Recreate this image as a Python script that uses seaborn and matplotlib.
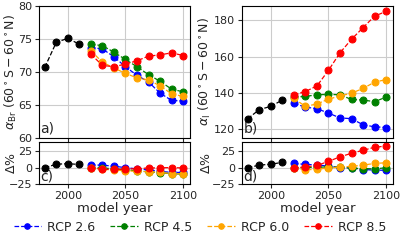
import numpy as np
import pandas as pd
import matplotlib
matplotlib.use("Agg")
import matplotlib.pyplot as plt
import seaborn as sns

hist_years = [1980, 1990, 2000, 2010]
rcp_years = [2020, 2030, 2040, 2050, 2060, 2070, 2080, 2090, 2100]
scenarios = ["RCP 2.6", "RCP 4.5", "RCP 6.0", "RCP 8.5"]
colors = ["blue", "green", "orange", "red"]

# alpha_Br (60S-60N)
br_hist = [70.7, 74.5, 75.1, 74.2]
br_26 = [73.7, 73.5, 72.3, 70.8, 69.5, 68.5, 66.8, 65.7, 65.6]
br_45 = [74.2, 74.0, 73.0, 71.9, 70.8, 69.6, 68.6, 67.4, 67.0]
br_60 = [73.2, 71.5, 70.6, 69.8, 69.1, 68.8, 67.9, 66.7, 66.3]
br_85 = [72.7, 71.0, 70.8, 71.2, 71.7, 72.4, 72.6, 72.9, 72.5]

# alpha_I (60S-60N)
i_hist = [125.7, 130.7, 132.5, 136.0]
i_26 = [134.1, 132.1, 131.2, 128.8, 126.1, 125.7, 122.3, 121.2, 120.8]
i_45 = [137.6, 138.0, 138.9, 139.1, 138.9, 136.3, 136.0, 135.1, 137.6]
i_60 = [136.9, 132.5, 133.8, 136.5, 138.2, 139.8, 142.4, 145.9, 147.3]
i_85 = [138.9, 140.7, 143.8, 152.4, 162.1, 169.6, 176.0, 182.4, 185.0]

# Delta % panels
dbr_hist = [0, 5.4, 6.2, 5.0]
dbr_26 = [4.2, 4.0, 2.3, 0.2, -1.7, -3.1, -5.5, -7.1, -7.2]
dbr_45 = [0, -0.3, -1.6, -3.1, -4.6, -6.2, -7.5, -9.2, -9.7]
dbr_60 = [0, -2.3, -3.6, -4.6, -5.6, -6.0, -7.2, -8.9, -9.4]
dbr_85 = [0, -2.3, -2.6, -2.1, -1.4, -0.4, -0.1, 0.3, -0.3]

di_hist = [0, 4.0, 5.4, 8.2]
di_26 = [6.7, 5.1, 4.4, 2.5, 0.3, 0.0, -2.7, -3.6, -3.9]
di_45 = [0, 0.3, 0.9, 1.1, 0.9, -0.9, -1.2, -1.8, 0.0]
di_60 = [0, -3.2, -2.3, -0.3, 1.0, 2.1, 4.0, 6.6, 7.6]
di_85 = [0, 1.3, 3.5, 9.7, 16.7, 22.1, 26.7, 31.3, 33.2]

sns.set_style("ticks", {"axes.grid": True, "grid.color": "#cccccc", "axes.edgecolor": "black"})
plt.rcParams["font.family"] = ["DejaVu Sans"]
plt.rcParams["mathtext.fontset"] = "dejavusans"
plt.rcParams["font.size"] = 9

fig = plt.figure(figsize=(4, 2.4), dpi=100)
ax_a = fig.add_axes([0.0975, 0.425, 0.3775, 0.55])
ax_c = fig.add_axes([0.0975, 0.233, 0.3775, 0.177])
ax_b = fig.add_axes([0.605, 0.425, 0.3775, 0.55])
ax_d = fig.add_axes([0.605, 0.233, 0.3775, 0.177])


def draw(ax, hist, series):
    sns.lineplot(x=hist_years, y=hist, ax=ax, color="black", ls="--", lw=0.9,
                 marker="o", ms=5, mec="black")
    for vals, name, c in zip(series, scenarios, colors):
        sns.lineplot(x=rcp_years, y=vals, ax=ax, color=c, ls="--", lw=0.9,
                     marker="o", ms=5, mec=c, label=name)
    ax.set_xlim(1975, 2106)
    ax.set_xticks([2000, 2050, 2100])
    ax.tick_params(labelsize=8, length=3, pad=2)
    if ax.get_legend() is not None:
        ax.get_legend().remove()


draw(ax_a, br_hist, [br_26, br_45, br_60, br_85])
draw(ax_b, i_hist, [i_26, i_45, i_60, i_85])
draw(ax_c, dbr_hist, [dbr_26, dbr_45, dbr_60, dbr_85])
draw(ax_d, di_hist, [di_26, di_45, di_60, di_85])

ax_a.set_ylim(60, 80)
ax_a.set_yticks([60, 65, 70, 75, 80])
ax_b.set_ylim(115, 188)
ax_b.set_yticks([120, 140, 160, 180])
for ax in (ax_a, ax_b):
    ax.set_xticklabels([])
for ax in (ax_c, ax_d):
    ax.set_ylim(-25, 40)
    ax.set_yticks([-25, 0, 25])
    ax.set_xlabel("model year", fontsize=9.5, labelpad=1)
    ax.set_ylabel(r"$\Delta\%$", fontsize=9)

ax_a.set_ylabel(r"$\alpha_{\rm Br}$ $(60^\circ\mathrm{S} - 60^\circ\mathrm{N})$", fontsize=9)
ax_b.set_ylabel(r"$\alpha_{\rm I}$ $(60^\circ\mathrm{S} - 60^\circ\mathrm{N})$", fontsize=9)
ax_a.yaxis.set_label_coords(-0.13, 0.5)
ax_c.yaxis.set_label_coords(-0.14, 0.5)
ax_b.yaxis.set_label_coords(-0.19, 0.5)
ax_d.yaxis.set_label_coords(-0.19, 0.5)

for ax, lab in zip([ax_a, ax_b, ax_c, ax_d], ["a)", "b)", "c)", "d)"]):
    ax.text(0.01, 0.02, lab, transform=ax.transAxes, fontsize=10, ha="left", va="bottom")

handles, labels = ax_a.get_lines()[1:5], scenarios
fig.legend(handles, labels, loc="lower center", ncol=4, frameon=False,
           bbox_to_anchor=(0.5, -0.02), fontsize=9, markerscale=0.8,
           handlelength=2.2, columnspacing=1.2, handletextpad=0.5)

fig.savefig("out.png", dpi=100)
